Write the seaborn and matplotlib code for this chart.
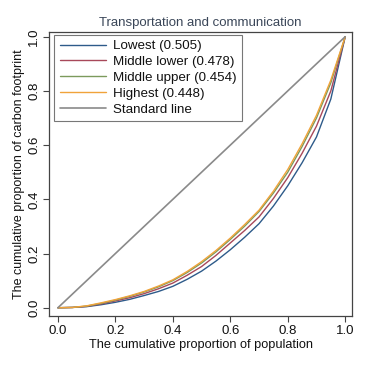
import numpy as np
import pandas as pd
import matplotlib
matplotlib.use("Agg")
import matplotlib.pyplot as plt
import seaborn as sns
from matplotlib.lines import Line2D

# Lorenz curves
population = [0.0, 0.05, 0.1, 0.15, 0.2, 0.25, 0.3, 0.35, 0.4, 0.45, 0.5, 0.55, 0.6,
              0.65, 0.7, 0.75, 0.8, 0.85, 0.9, 0.95, 1.0]
lowest = [0.0, 0.001, 0.004, 0.011, 0.02, 0.031, 0.045, 0.06, 0.079, 0.105, 0.135, 0.172,
          0.214, 0.26, 0.31, 0.375, 0.45, 0.535, 0.63, 0.77, 1.0]
middle_lower = [0.0, 0.001, 0.005, 0.014, 0.025, 0.037, 0.052, 0.07, 0.091, 0.12, 0.152, 0.193,
                0.239, 0.285, 0.335, 0.403, 0.48, 0.57, 0.67, 0.80, 1.0]
middle_upper = [0.0, 0.001, 0.006, 0.016, 0.028, 0.042, 0.058, 0.077, 0.1, 0.13, 0.165, 0.206,
                0.252, 0.301, 0.355, 0.423, 0.5, 0.595, 0.70, 0.83, 1.0]
highest = [0.0, 0.001, 0.007, 0.018, 0.03, 0.044, 0.06, 0.08, 0.103, 0.134, 0.17, 0.211,
           0.257, 0.307, 0.36, 0.43, 0.51, 0.605, 0.71, 0.84, 1.0]
standard = [0.0, 1.0]
standard_x = [0.0, 1.0]

labels = ['Lowest (0.505)', 'Middle lower (0.478)', 'Middle upper (0.454)', 'Highest (0.448)']
colors = ['#2e5b8a', '#a8485a', '#7c9a5c', '#f0a33a']
std_color = '#8a8a8a'

sns.set_theme(style='white')
plt.rcParams['font.family'] = ['Liberation Sans', 'DejaVu Sans']

fig = plt.figure(figsize=(3.66, 3.66), dpi=100)
ax = fig.add_axes([0.134, 0.137, 0.828, 0.776])

df = pd.DataFrame({'population': population * 4,
                   'share': lowest + middle_lower + middle_upper + highest,
                   'group': [g for g in labels for _ in population]})
sns.lineplot(data=df, x='population', y='share', hue='group', hue_order=labels,
             palette=colors, linewidth=1.0, ax=ax, legend=False)
sns.lineplot(x=standard_x, y=standard, color=std_color, linewidth=1.2, ax=ax)

handles = [Line2D([], [], color=c, lw=1.0) for c in colors] + [Line2D([], [], color=std_color, lw=1.2)]
leg = ax.legend(handles, labels + ['Standard line'], loc='upper left', fontsize=9.6,
                frameon=True, fancybox=False, handlelength=3.5, handletextpad=0.5,
                borderpad=0.4, labelspacing=0.26, borderaxespad=0,
                bbox_to_anchor=(0.018, 0.99))
leg.get_frame().set_edgecolor('#555555')
leg.get_frame().set_linewidth(0.8)
for t in leg.get_texts():
    t.set_color('#111111')

ax.set_xlim(-0.031, 1.024)
ax.set_ylim(-0.03, 1.018)
ticks = [0.0, 0.2, 0.4, 0.6, 0.8, 1.0]
ax.set_xticks(ticks)
ax.set_yticks(ticks)
ax.set_xticklabels([f'{t:.1f}' for t in ticks], fontsize=9.5, color='#111111')
ax.set_yticklabels([f'{t:.1f}' for t in ticks], fontsize=9.5, color='#111111',
                   rotation=90, va='center')
ax.tick_params(axis='both', length=4, width=0.8, color='#444444', pad=2.5, direction='out')
ax.tick_params(axis='both', which='both', bottom=True, left=True)
for s in ax.spines.values():
    s.set_color('#444444')
    s.set_linewidth(0.9)

ax.set_xlabel('The cumulative proportion of population', fontsize=9.2, color='#111111', labelpad=1.5)
ax.set_ylabel('The cumulative proportion of carbon footprint', fontsize=9, color='#111111', labelpad=2)
ax.set_title('Transportation and communication', fontsize=9.5, color='#3a4658', pad=4)

fig.savefig('out.png', dpi=100)
